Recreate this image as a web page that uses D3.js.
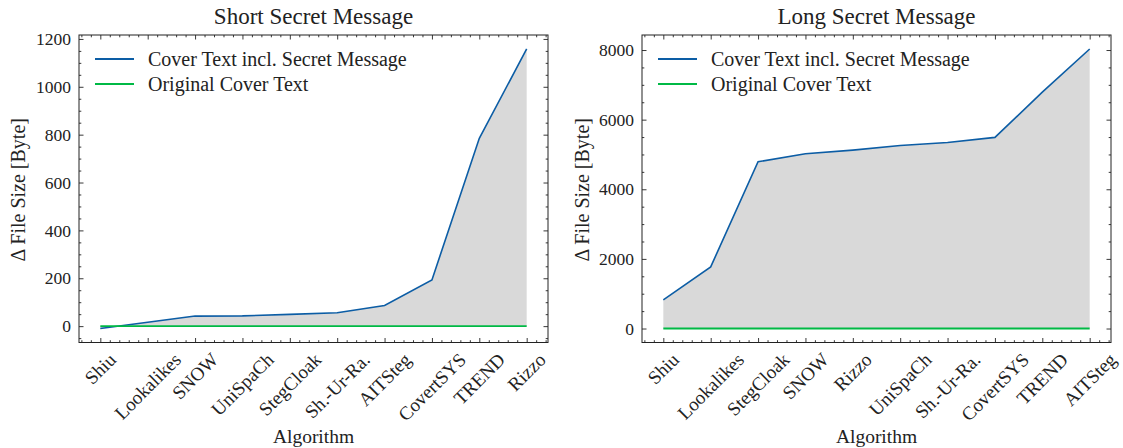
<!DOCTYPE html>
<html>
<head>
<meta charset="utf-8">
<script src="https://cdn.jsdelivr.net/npm/d3@7"></script>
<style>
  body { margin: 0; background: #fff; }
  svg text { font-family: 'Liberation Serif', 'DejaVu Serif', serif; fill: #222; }
  .tick line { stroke: #222; }
</style>
</head>
<body>
<svg id="chart" width="1123" height="448"></svg>
<script>
// data
const shortAlgorithms = ['Shiu', 'Lookalikes', 'SNOW', 'UniSpaCh', 'StegCloak', 'Sh.-Ur-Ra.', 'AITSteg', 'CovertSYS', 'TREND', 'Rizzo'];
const shortWithSecret = [-10, 16, 42, 43, 49, 56, 86, 193, 785, 1158];
const shortOriginal = [0, 0, 0, 0, 0, 0, 0, 0, 0, 0];
const shortYTicks = [0, 200, 400, 600, 800, 1000, 1200];

const longAlgorithms = ['Shiu', 'Lookalikes', 'StegCloak', 'SNOW', 'Rizzo', 'UniSpaCh', 'Sh.-Ur-Ra.', 'CovertSYS', 'TREND', 'AITSteg'];
const longWithSecret = [822, 1770, 4790, 5020, 5125, 5258, 5345, 5490, 6790, 8030];
const longOriginal = [0, 0, 0, 0, 0, 0, 0, 0, 0, 0];
const longYTicks = [0, 2000, 4000, 6000, 8000];

const seriesNames = ['Cover Text incl. Secret Message', 'Original Cover Text'];
const blue = '#0C5DA5';
const green = '#00B945';

const svg = d3.select('#chart');

function drawPanel(cfg) {
	const { left, right, top, bottom } = cfg;
	const n = cfg.cats.length;
	const all = cfg.secret.concat(cfg.orig);
	const lo = d3.min(all), hi = d3.max(all);
	const pad = (hi - lo) * 0.05;

	const x = d3.scaleLinear().domain([-0.45, n - 1 + 0.45]).range([left, right]);
	const y = d3.scaleLinear().domain([lo - pad, hi + pad]).range([bottom, top]);

	const g = svg.append('g');

	// shaded gap between the two series
	const area = d3.area()
		.x((d, i) => x(i))
		.y0((d, i) => y(cfg.orig[i]))
		.y1(d => y(d));
	g.append('path').datum(cfg.secret).attr('d', area).attr('fill', '#d9d9d9');

	const line = d3.line().x((d, i) => x(i)).y(d => y(d));
	g.append('path').datum(cfg.secret).attr('d', line)
		.attr('fill', 'none').attr('stroke', blue).attr('stroke-width', 1.6);
	g.append('path').datum(cfg.orig).attr('d', line)
		.attr('fill', 'none').attr('stroke', green).attr('stroke-width', 1.8);

	// minor ticks: 5 per category, y every quarter of a major step
	const idx = d3.range(n);
	const xMinor = d3.range(-2, 5 * (n - 1) + 3).map(k => k / 5).filter(v => idx.indexOf(v) < 0 && v >= -0.45 && v <= n - 1 + 0.45);
	const yStep = cfg.yTicks[1] - cfg.yTicks[0];
	const yMinor = d3.range(Math.ceil((lo - pad) / (yStep / 4)), Math.floor((hi + pad) / (yStep / 4)) + 1)
		.map(k => k * yStep / 4).filter(v => cfg.yTicks.indexOf(v) < 0);

	const mk = (axis, scale, vals, size, tr) => {
		const a = g.append('g').attr('transform', tr)
			.call(axis(scale).tickValues(vals).tickSize(-size).tickFormat(''));
		a.select('.domain').remove();
		a.selectAll('.tick line').attr('stroke-width', 0.9);
		return a;
	};
	mk(d3.axisBottom, x, idx, 4.5, `translate(0,${bottom})`);
	mk(d3.axisBottom, x, xMinor, 2.3, `translate(0,${bottom})`);
	mk(d3.axisTop, x, idx, 4.5, `translate(0,${top})`);
	mk(d3.axisTop, x, xMinor, 2.3, `translate(0,${top})`);
	mk(d3.axisLeft, y, cfg.yTicks, 4.5, `translate(${left},0)`);
	mk(d3.axisLeft, y, yMinor, 2.3, `translate(${left},0)`);
	mk(d3.axisRight, y, cfg.yTicks, 4.5, `translate(${right},0)`);
	mk(d3.axisRight, y, yMinor, 2.3, `translate(${right},0)`);

	g.append('rect')
		.attr('x', left).attr('y', top).attr('width', right - left).attr('height', bottom - top)
		.attr('fill', 'none').attr('stroke', '#222').attr('stroke-width', 1);

	// y tick labels
	g.selectAll('.ylab').data(cfg.yTicks).join('text')
		.attr('x', left - 8).attr('y', d => y(d)).attr('dy', '0.35em')
		.attr('text-anchor', 'end').attr('font-size', 17.5)
		.text(d => d);

	// x tick labels, rotated 45° and centred under the tick like matplotlib
	const fs = 19;
	g.selectAll('.xlab').data(cfg.cats).join('text')
		.attr('font-size', fs)
		.attr('text-anchor', 'middle').attr('dominant-baseline', 'central')
		.text(d => d)
		.each(function (d, i) {
			const w = this.getComputedTextLength();
			const h = fs * 0.72;
			const half = (w + h) / (2 * Math.SQRT2);
			d3.select(this).attr('transform', `translate(${x(i)},${bottom + 9 + half}) rotate(-45)`);
		});

	// titles and axis labels
	const cx = (left + right) / 2;
	g.append('text').attr('x', cx).attr('y', 24).attr('text-anchor', 'middle')
		.attr('font-size', 23).text(cfg.title);
	g.append('text').attr('x', cx).attr('y', 443).attr('text-anchor', 'middle')
		.attr('font-size', 19.5).text('Algorithm');
	g.append('text')
		.attr('transform', `translate(${cfg.ylabX},${(top + bottom) / 2 + 1}) rotate(-90)`)
		.attr('text-anchor', 'middle').attr('font-size', 20)
		.text('\u0394 File Size [Byte]');

	// legend
	const lg = g.append('g').attr('transform', `translate(${left + 16},${top + 24})`);
	[blue, green].forEach((c, i) => {
		lg.append('line').attr('x1', 0).attr('x2', 39).attr('y1', i * 25).attr('y2', i * 25)
			.attr('stroke', c).attr('stroke-width', 1.8);
		lg.append('text').attr('x', 53).attr('y', i * 25).attr('dy', '0.35em')
			.attr('font-size', 20).text(seriesNames[i]);
	});
}

drawPanel({
	title: 'Short Secret Message', cats: shortAlgorithms, secret: shortWithSecret, orig: shortOriginal,
	yTicks: shortYTicks, left: 79, right: 548, top: 35, bottom: 342.5, ylabX: 25
});
drawPanel({
	title: 'Long Secret Message', cats: longAlgorithms, secret: longWithSecret, orig: longOriginal,
	yTicks: longYTicks, left: 642, right: 1111, top: 35, bottom: 342.5, ylabX: 589
});
</script>
</body>
</html>
